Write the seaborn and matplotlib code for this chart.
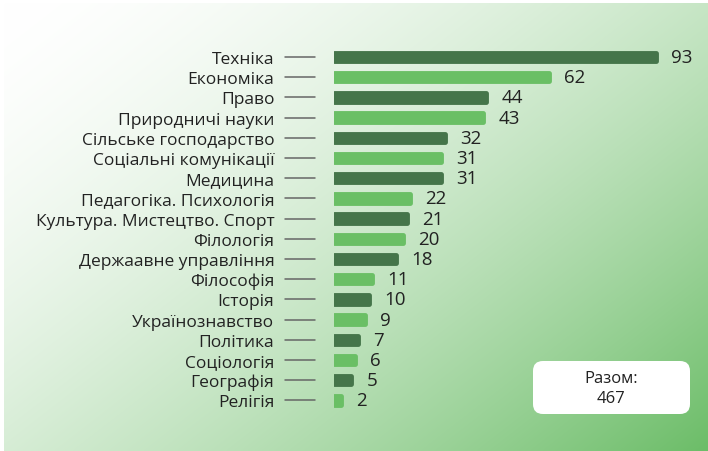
import numpy as np
import pandas as pd
import matplotlib.pyplot as plt
import seaborn as sns
from matplotlib.patches import FancyBboxPatch

sns.set_theme(style="white")
plt.rcParams['font.family'] = ['Open Sans', 'DejaVu Sans']

# Data
categories = ['Техніка', 'Економіка', 'Право', 'Природничі науки', 'Сільське господарство',
              'Соціальні комунікації', 'Медицина', 'Педагогіка. Психологія',
              'Культура. Мистецтво. Спорт', 'Філологія', 'Держаавне управління', 'Філософія',
              'Історія', 'Українознавство', 'Політика', 'Соціологія', 'Географія', 'Релігія']
values = [93, 62, 44, 43, 32, 31, 31, 22, 21, 20, 18, 11, 10, 9, 7, 6, 5, 2]
total_label = 'Разом:'
total_value = 467

dark_green = '#45754a'
light_green = '#6abf65'
colors = [dark_green if i % 2 == 0 else light_green for i in range(len(values))]

df = pd.DataFrame({'category': categories, 'value': values})

W, H = 708, 452
fig = plt.figure(figsize=(W / 100, H / 100), dpi=100)
fig.patch.set_facecolor('white')

# background gradient (white top-left -> green bottom-right)
bg = fig.add_axes([4 / W, 0.0, 1 - 4 / W, 1 - 4 / H])
yy, xx = np.mgrid[0:1:200j, 0:1:300j]
t = np.clip((xx * 0.55 + yy * 0.45), 0, 1) ** 1.6
green = np.array([108, 189, 104]) / 255
img = (1 - t)[..., None] * np.ones(3) + t[..., None] * green
bg.imshow(img, aspect='auto', extent=[0, 1, 1, 0], interpolation='bilinear')
bg.set_axis_off()

# main axis
row = 20.2
ax_left, ax_w = 334 / W, 348 / W
ax_top_px = 58 - row / 2
ax_h_px = row * len(values)
ax = fig.add_axes([ax_left, 1 - (ax_top_px + ax_h_px) / H, ax_w, ax_h_px / H])
ax.patch.set_alpha(0)

sns.barplot(data=df, x='value', y='category', hue='category', palette=colors,
            legend=False, width=0.42, saturation=1, ax=ax, orient='h')
for p in ax.patches:
    p.set_edgecolor(p.get_facecolor())
    p.set_linewidth(3.5)
    p.set_joinstyle('round')

ax.set_xlim(0, 100.5)
ax.set_ylim(len(values) - 0.5, -0.5)
for c in ax.containers:
    ax.bar_label(c, padding=11, fontsize=13.5, color='#222222')
ax.set_xlabel('')
ax.set_ylabel('')
ax.set_xticks([])
ax.tick_params(axis='y', length=0, pad=43, labelsize=12.5, labelcolor='#222222')
sns.despine(ax=ax, left=True, bottom=True)

# connector lines
trans = ax.get_yaxis_transform()
for i in range(len(values)):
    ax.plot([(285 - 334) / 348, (315 - 334) / 348], [i, i], transform=trans,
            color='#666666', lw=1.1, clip_on=False)

# total box
box = FancyBboxPatch((533 / W, 1 - 415 / H), 157 / W, 53 / H,
                     boxstyle='round,pad=0,rounding_size=0.014',
                     transform=fig.transFigure, facecolor='white',
                     edgecolor='none', mutation_aspect=W / H)
fig.patches.append(box)
fig.text(611 / W, 1 - 379 / H, total_label, ha='center', va='center', fontsize=12, color='#222222')
fig.text(611 / W, 1 - 399 / H, str(total_value), ha='center', va='center', fontsize=12, color='#222222')

fig.savefig('out.png', dpi=100)
